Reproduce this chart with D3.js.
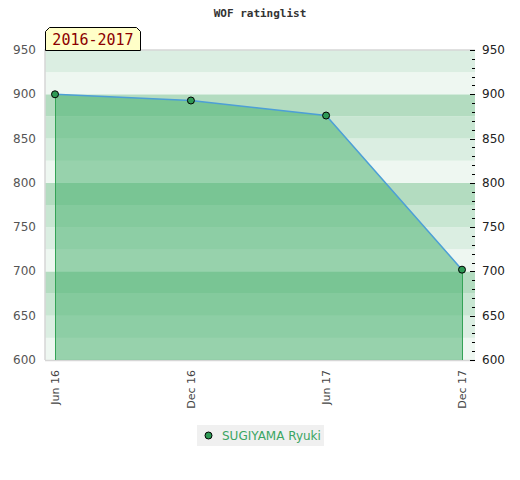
<!DOCTYPE html>
<html><head><meta charset="utf-8">
<script src="https://cdn.jsdelivr.net/npm/d3@7"></script>
<style>body{margin:0;background:#fff}svg{display:block}</style>
</head><body>
<svg id="c" width="520" height="480"></svg>
<script>
const title = "WOF ratinglist";
const periodLabel = "2016-2017";
const playerName = "SUGIYAMA Ryuki";
const dates = ["2016-06-01","2016-12-01","2017-06-01","2017-12-01"];
const tickLabels = ["Jun 16","Dec 16","Jun 17","Dec 17"];
const ratings = [900, 893, 876, 702];
const yTicks = [600,650,700,750,800,850,900,950];

const svg = d3.select("#c");
const L=45, R=475, T=50, B=360;
const parse = d3.timeParse("%Y-%m-%d");
const dd = dates.map(parse);
const x = d3.scaleTime().domain([dd[0], dd[dd.length-1]]).range([55, 462]);
const y = d3.scaleLinear().domain([600, 950]).range([B, T]);

// background bands
const bandCols = ["#b3dcc0","#c8e6d2","#dbeee2","#eef7f1"];
const bands = d3.range(600, 950, 25);
svg.append("g").selectAll("rect").data(bands).join("rect")
  .attr("x", L).attr("width", R-L)
  .attr("y", d=>y(d+25)).attr("height", d=>y(d)-y(d+25))
  .attr("fill", d=>bandCols[((900 - (d+25)) / 25 % 4 + 4) % 4]);

// frame
svg.append("path").attr("d",`M${L},${B}V${T}H${R}`).attr("fill","none").attr("stroke","#d6d6d6").attr("stroke-width",1.5);
svg.append("line").attr("x1",L).attr("x2",R).attr("y1",B+0.5).attr("y2",B+0.5).attr("stroke","#d6d6d6").attr("stroke-width",1.5);

const pts = dd.map((d,i)=>({d, v: ratings[i]}));
// area
svg.append("path").datum(pts)
  .attr("d", d3.area().x(p=>x(p.d)).y0(B).y1(p=>y(p.v)))
  .attr("fill","rgb(63,173,103)").attr("fill-opacity",0.5);
// vertical drop lines
svg.append("g").selectAll("line").data([pts[0], pts[pts.length-1]]).join("line")
  .attr("x1",p=>x(p.d)+0.5).attr("x2",p=>x(p.d)+0.5)
  .attr("y1",p=>y(p.v)).attr("y2",B)
  .attr("stroke","#34a356").attr("stroke-width",1);
// line
svg.append("path").datum(pts)
  .attr("d", d3.line().x(p=>x(p.d)).y(p=>y(p.v)))
  .attr("fill","none").attr("stroke","#4d9fd6").attr("stroke-width",1.5);
// markers
svg.append("g").selectAll("circle").data(pts).join("circle")
  .attr("cx",p=>x(p.d)).attr("cy",p=>y(p.v)).attr("r",3.5)
  .attr("fill","#2e9a55").attr("stroke","#000").attr("stroke-width",1);

// left axis labels
const axisFont = "'DejaVu Sans', Verdana, sans-serif";
svg.append("g").selectAll("text").data(yTicks).join("text")
  .attr("x",36).attr("y",d=>y(d)+4).attr("text-anchor","end")
  .attr("font-family",axisFont).attr("font-size",12).attr("fill","#555")
  .text(d=>d);
// right axis
const rAxis = svg.append("g").attr("transform",`translate(${R},0)`);
rAxis.selectAll("line.minor").data(d3.range(600, 951, 10)).join("line")
  .attr("x1",d=>d%50===0?-5:-3).attr("x2",0)
  .attr("y1",d=>Math.round(y(d))+0.5).attr("y2",d=>Math.round(y(d))+0.5)
  .attr("stroke","#000").attr("stroke-width",1);
rAxis.selectAll("text").data(yTicks).join("text")
  .attr("x",7).attr("y",d=>y(d)+4)
  .attr("font-family",axisFont).attr("font-size",12).attr("fill","#222")
  .text(d=>d);

// x labels
svg.append("g").selectAll("text").data(dd).join("text")
  .attr("transform",d=>`translate(${x(d)+4},370) rotate(-90)`)
  .attr("text-anchor","end")
  .attr("font-family",axisFont).attr("font-size",11).attr("fill","#444")
  .text((d,i)=>tickLabels[i]);

// title
svg.append("text").attr("x",260).attr("y",17).attr("text-anchor","middle")
  .attr("font-family","'DejaVu Sans Mono', monospace").attr("font-weight","bold")
  .attr("font-size",11).attr("fill","#333").text(title);

// period label box
const bx=45.5, by=27.5, bw=95, bh=23, ch=4;
svg.append("path")
  .attr("d",`M${bx},${by+bh}V${by+ch}L${bx+ch},${by}H${bx+bw-ch}L${bx+bw},${by+ch}V${by+bh}Z`)
  .attr("fill","#ffffc8").attr("stroke","#000").attr("stroke-width",1);
svg.append("text").attr("x",bx+bw/2).attr("y",by+17).attr("text-anchor","middle")
  .attr("font-family","'DejaVu Sans Mono', monospace").attr("font-size",15)
  .attr("fill","#8b0000").text(periodLabel);

// legend
svg.append("rect").attr("x",197).attr("y",425).attr("width",127).attr("height",21).attr("fill","#f0f0f0");
svg.append("circle").attr("cx",208.5).attr("cy",435.5).attr("r",3.5)
  .attr("fill","#2e9a55").attr("stroke","#000").attr("stroke-width",1);
svg.append("text").attr("x",222).attr("y",440)
  .attr("font-family",axisFont).attr("font-size",12).attr("fill","#3aa562").text(playerName);
</script>
</body></html>
